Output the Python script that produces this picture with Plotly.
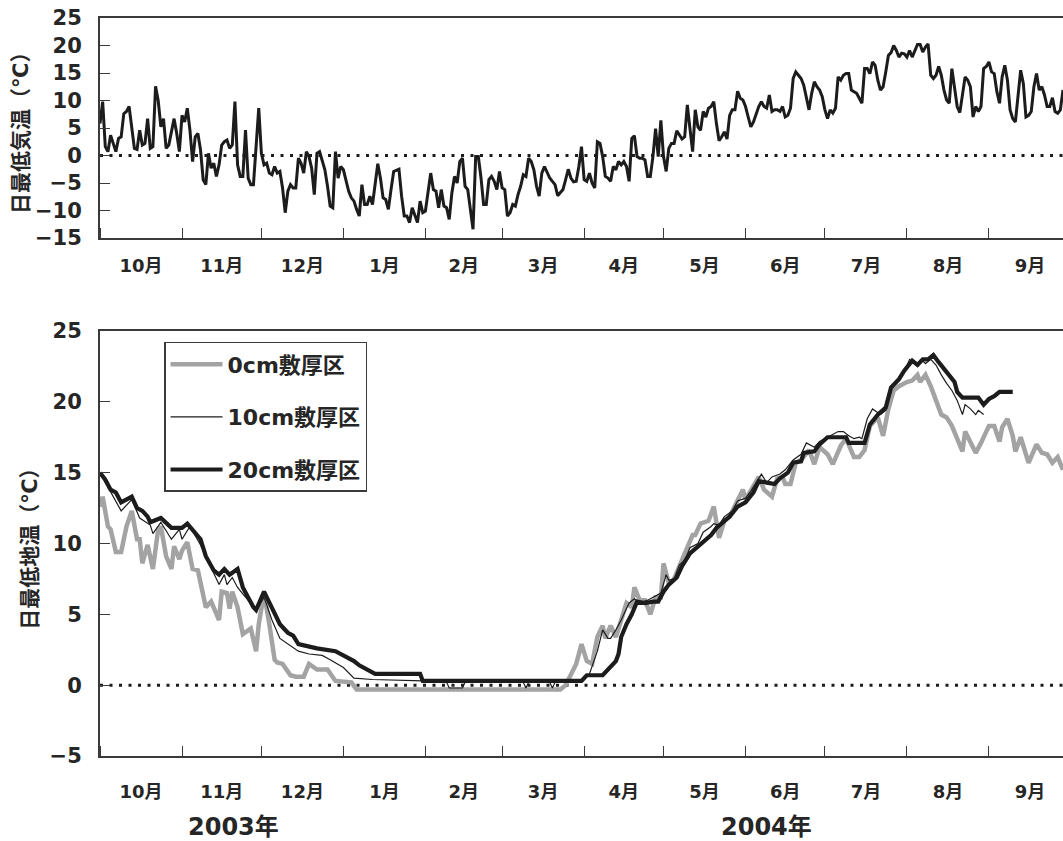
import pandas as pd
import plotly.graph_objects as go

START = "2003-10-01"

# ---- daily minimum air temperature (°C), Oct 1 2003 .. Sep 29 2004 ----
air_oct = [5.8, 9.8, 1.6, 0.7, 3.7, 2.0, 0.7, 3.1, 3.4, 7.6, 8.0, 8.9, 4.9, 1.3, 1.1, 4.6,
           1.9, 2.2, 6.7, 1.3, 1.6, 12.6, 10.0, 5.2, 6.7, 1.3, 1.9, 4.0, 6.7, 4.0, 0.7]
air_nov = [7.3, 6.1, 8.6, 4.6, -1.1, 3.4, 4.0, 1.0, -4.4, -5.3, 0.4, -2.3, -1.4, -3.8, -1.7,
           1.9, 2.5, 2.8, 1.3, 1.9, 9.8, -1.7, -3.8, -3.8, 4.6, -4.1, -5.3, -5.3, 1.6, 8.6]
air_dec = [0.4, -1.7, -1.4, -3.2, -3.5, -2.0, -3.2, -2.9, -5.9, -10.4, -6.5, -5.3, -5.9, -5.9,
           -0.5, -1.4, -3.2, 0.7, -0.2, -2.3, -7.1, 0.4, 0.7, -1.1, -2.6, -5.6, -9.2, -9.5, 0.7,
           -4.1, -2.0]
air_jan = [-2.6, -4.4, -6.5, -7.7, -8.3, -9.8, -11.0, -5.3, -8.9, -8.9, -7.4, -8.9, -5.0, -1.5,
           -4.1, -7.7, -8.0, -9.8, -6.2, -2.9, -2.7, -2.5, -7.4, -11.0, -11.0, -12.2, -9.5, -10.7,
           -12.2, -8.3, -10.4]
air_feb = [-10.1, -7.0, -3.2, -6.2, -6.5, -9.5, -6.2, -9.2, -9.5, -11.6, -6.8, -3.8, -5.0, -1.1,
           -0.5, -5.6, -6.2, -9.8, -13.4, -0.2, -0.2, -4.0, -8.9, -8.9, -4.4, -3.8, -4.7, -6.2, -2.9]
air_mar = [-5.9, -6.2, -11.0, -10.4, -8.9, -9.2, -7.1, -5.6, -3.5, -3.8, -0.5, -1.1, -2.6, -5.6,
           -7.4, -3.2, -2.0, -3.2, -4.1, -4.7, -5.3, -7.3, -6.8, -6.2, -4.4, -2.5, -4.1, -4.8, -4.7,
           -2.0, 1.6]
air_apr = [-4.4, -4.7, -3.2, -5.0, -5.9, 2.5, 2.2, -0.2, -3.8, -4.1, -4.7, -2.0, -2.6, -1.1, -1.7,
           -1.1, -2.0, -4.7, 3.1, 3.6, -0.2, -0.5, -0.5, -0.8, -3.8, -3.8, -0.2, 4.9, -0.2, 6.4]
air_may = [-0.2, -2.9, 1.3, 2.2, 2.2, 4.5, 3.7, 3.0, 3.4, 9.2, 4.9, 0.7, 8.3, 5.2, 4.6, 8.0, 7.0,
           8.6, 8.9, 9.8, 5.8, 2.7, 3.4, 4.3, 3.0, 7.3, 8.3, 8.3, 11.7, 10.4, 10.1]
air_jun = [8.9, 7.0, 5.2, 6.1, 7.7, 8.9, 9.8, 8.9, 8.6, 11.0, 8.0, 8.3, 8.3, 8.0, 8.9, 7.0, 7.3,
           8.6, 14.0, 15.2, 14.6, 14.0, 12.8, 10.4, 8.3, 11.3, 13.4, 12.5, 11.9, 10.7]
air_jul = [8.3, 6.7, 8.3, 7.7, 8.6, 14.3, 13.7, 14.6, 14.9, 14.9, 11.9, 11.6, 11.3, 10.4, 9.5,
           15.8, 15.8, 14.9, 17.0, 16.4, 13.7, 11.9, 12.5, 15.2, 18.2, 18.7, 20.0, 19.1, 17.9, 18.6,
           18.5]
air_aug = [17.9, 19.1, 17.9, 19.0, 20.2, 20.2, 18.8, 19.7, 20.3, 14.6, 14.0, 14.6, 16.2, 14.6,
           11.9, 10.1, 9.5, 15.8, 11.9, 8.9, 7.8, 10.7, 14.3, 13.7, 12.5, 7.0, 8.9, 8.0, 8.9, 15.8,
           16.2]
air_sep = [17.0, 15.2, 14.9, 11.6, 9.5, 14.3, 16.4, 13.7, 8.3, 6.7, 6.1, 11.3, 15.5, 13.1, 7.0,
           7.3, 8.0, 12.5, 14.9, 11.9, 12.5, 11.0, 8.9, 8.9, 10.5, 8.0, 7.7, 8.3, 11.9]

air_min = (air_oct + air_nov + air_dec + air_jan + air_feb + air_mar + air_apr + air_may
           + air_jun + air_jul + air_aug + air_sep)

# ---- daily minimum soil temperature (°C): (day since Oct 1 2003, value) ----
soil_0cm = [(0, 12.6), (1, 13.3), (3, 11.2), (4, 11.0), (6, 9.4), (8, 9.4), (10, 11.2), (12, 12.3),
            (14, 10.3), (15, 10.3), (16, 8.6), (18, 9.9), (20, 8.2), (22, 11.0), (23, 11.2),
            (25, 9.1), (27, 8.2), (28, 9.8), (30, 8.9), (31, 9.5), (33, 10.1), (35, 8.2), (37, 8.1),
            (40, 5.5), (42, 5.9), (45, 4.6), (46, 6.6), (48, 6.5), (49, 5.4), (50, 6.6), (52, 5.5),
            (54, 3.6), (57, 4.0), (59, 2.4), (60, 4.3), (62, 6.5), (64, 4.3), (66, 1.8), (67, 1.6),
            (69, 1.5), (72, 0.7), (74, 0.6), (77, 0.6), (79, 1.5), (82, 1.1), (86, 1.1), (89, 0.3),
            (95, 0.2), (97, -0.3), (174, -0.3), (176, 0.0), (180, 1.5), (182, 2.9), (184, 1.7),
            (186, 1.5), (188, 3.4), (190, 4.2), (191, 3.3), (193, 4.2), (195, 3.4), (197, 4.6),
            (199, 5.8), (201, 5.5), (202, 6.9), (204, 6.0), (206, 6.0), (208, 5.0), (210, 6.2),
            (212, 6.2), (213, 8.6), (215, 7.2), (217, 7.5), (219, 8.4), (222, 9.8), (224, 10.6),
            (225, 10.6), (227, 11.4), (230, 11.6), (232, 12.6), (234, 10.4), (236, 11.6),
            (238, 11.9), (241, 13.1), (243, 13.8), (244, 13.1), (247, 14.0), (249, 14.7),
            (251, 13.8), (254, 13.3), (256, 14.6), (258, 14.7), (259, 14.2), (261, 14.2),
            (263, 15.7), (265, 15.9), (268, 16.6), (270, 15.6), (272, 16.8), (275, 16.3),
            (277, 15.6), (280, 16.9), (282, 17.4), (285, 16.1), (287, 16.1), (289, 16.6),
            (291, 18.3), (294, 18.9), (296, 17.6), (298, 19.5), (300, 20.8), (302, 21.1),
            (305, 21.4), (307, 21.5), (309, 21.9), (310, 21.4), (312, 21.9), (314, 21.1),
            (316, 20.1), (318, 19.1), (320, 18.9), (322, 18.3), (324, 17.4), (326, 16.5),
            (327, 17.9), (329, 17.1), (331, 16.4), (333, 17.1), (336, 18.3), (338, 18.3),
            (340, 17.2), (341, 18.2), (343, 18.8), (345, 17.6), (346, 16.5), (348, 17.5),
            (350, 16.3), (351, 15.7), (354, 17.0), (356, 16.4), (358, 16.3), (360, 15.7),
            (362, 16.1), (364, 15.2)]

soil_10cm = [(0, 15.0), (4, 13.6), (8, 12.3), (12, 13.1), (15, 11.8), (19, 11.3), (20, 10.7),
             (23, 11.5), (27, 10.3), (30, 11.0), (31, 10.3), (34, 11.2), (38, 9.9), (45, 7.1),
             (47, 7.8), (48, 7.1), (50, 7.6), (52, 6.9), (55, 6.2), (59, 5.3), (62, 6.2), (65, 4.6),
             (68, 3.3), (72, 2.8), (75, 2.4), (79, 2.2), (84, 2.1), (87, 1.8), (92, 1.25), (96, 0.5),
             (103, 0.4), (122, 0.3), (131, 0.2), (132, -0.2), (137, -0.2), (138, 0.2), (160, 0.2),
             (161, -0.2), (162, 0.2), (170, 0.2), (171, -0.2), (172, 0.2), (182, 0.25), (185, 0.8),
             (188, 2.4), (190, 3.9), (192, 3.3), (193, 3.3), (195, 3.9), (197, 4.6), (200, 5.8),
             (202, 6.1), (204, 5.8), (207, 6.0), (209, 6.2), (212, 6.5), (214, 7.8), (215, 7.4),
             (217, 7.5), (219, 8.5), (221, 8.8), (223, 9.7), (226, 10.0), (228, 10.8), (231, 11.2),
             (232, 11.4), (234, 11.3), (236, 11.9), (239, 12.3), (241, 13.0), (244, 13.2),
             (246, 13.7), (248, 14.3), (250, 14.9), (252, 14.3), (254, 14.7), (257, 14.9),
             (259, 15.2), (262, 15.9), (265, 16.3), (267, 17.1), (270, 16.8), (272, 17.2),
             (275, 17.5), (279, 17.9), (281, 17.9), (283, 17.6), (285, 17.4), (287, 17.5),
             (288, 17.4), (290, 18.8), (292, 19.5), (295, 19.1), (297, 19.4), (299, 21.1),
             (302, 21.5), (304, 22.1), (306, 23.0), (309, 22.6), (311, 22.9), (312, 22.7),
             (314, 23.0), (316, 22.6), (318, 21.9), (320, 21.3), (322, 20.8), (324, 20.1),
             (326, 19.1), (327, 19.8), (329, 19.5), (331, 19.1), (332, 19.4), (334, 19.1)]

soil_20cm = [(0, 15.0), (2, 14.5), (4, 13.8), (6, 13.6), (8, 12.9), (12, 13.3), (14, 12.5),
             (16, 12.3), (18, 11.9), (19, 11.5), (23, 11.8), (25, 11.4), (27, 11.1), (31, 11.1),
             (33, 11.4), (38, 10.3), (40, 9.1), (43, 8.1), (45, 7.8), (47, 8.2), (49, 7.8),
             (52, 8.2), (54, 6.9), (58, 5.5), (59, 5.3), (62, 6.6), (65, 5.4), (68, 4.3), (71, 3.7),
             (73, 3.5), (75, 2.9), (82, 2.6), (89, 2.4), (96, 1.7), (98, 1.4), (104, 0.8),
             (121, 0.8), (122, 0.3), (182, 0.3), (184, 0.7), (190, 0.7), (192, 1.1), (193, 1.25),
             (195, 1.7), (196, 2.2), (197, 3.4), (199, 4.3), (201, 5.0), (203, 5.9), (206, 5.8),
             (209, 5.9), (211, 5.9), (213, 6.6), (215, 7.1), (218, 7.6), (220, 8.4), (223, 9.3),
             (226, 9.8), (228, 10.1), (231, 10.6), (233, 11.1), (236, 11.6), (238, 11.9),
             (241, 12.6), (244, 12.9), (247, 13.6), (249, 14.4), (252, 14.3), (255, 14.2),
             (257, 14.6), (260, 15.0), (262, 15.7), (265, 15.8), (266, 16.4), (270, 16.5),
             (272, 17.0), (275, 17.5), (282, 17.5), (283, 17.1), (289, 17.1), (291, 18.4),
             (294, 19.1), (297, 19.6), (299, 21.0), (302, 21.6), (304, 22.2), (307, 22.9),
             (309, 22.6), (311, 23.0), (313, 23.0), (315, 23.3), (317, 22.8), (319, 22.3),
             (321, 21.9), (323, 21.4), (324, 20.7), (326, 20.3), (332, 20.3), (334, 19.8),
             (336, 20.2), (338, 20.4), (340, 20.7), (345, 20.7)]

series_names = ["0cm敷厚区", "10cm敷厚区", "20cm敷厚区"]
month_fmt = "%-m月"
year_labels = ["2003年", "2004年"]
x_end = "2004-09-29"

base = pd.Timestamp(START)
air_dates = pd.date_range(START, periods=len(air_min), freq="D")


def to_xy(pairs):
    days = [p[0] for p in pairs]
    vals = [p[1] for p in pairs]
    return base + pd.to_timedelta(days, unit="D"), vals


FONT = "DejaVu Sans, Noto Sans CJK JP, sans-serif"
TXT = "#262626"

fig = go.Figure()
fig.add_trace(go.Scatter(x=air_dates, y=air_min, mode="lines", xaxis="x", yaxis="y",
                         line=dict(color="#1c1c1c", width=3), showlegend=False))

styles = [dict(color="#a3a3a3", width=4.5), dict(color="#1c1c1c", width=1.2),
          dict(color="#1c1c1c", width=4.2)]
for name, pairs, st in zip(series_names, [soil_0cm, soil_10cm, soil_20cm], styles):
    xs, ys = to_xy(pairs)
    fig.add_trace(go.Scatter(x=xs, y=ys, mode="lines", xaxis="x2", yaxis="y2", name=name,
                             legendgroup=name, line=st))

common_x = dict(type="date", range=[START, x_end], showline=True, linecolor="#3a3a3a",
                linewidth=2, mirror=True, ticks="inside", ticklen=10, tickwidth=1.3,
                tickcolor="#3a3a3a", dtick="M1", tick0=START, tickformat=month_fmt,
                ticklabelmode="period", showgrid=False, zeroline=False,
                tickfont=dict(family=FONT, size=18, color=TXT, weight="bold"))
common_y = dict(showline=True, linecolor="#3a3a3a", linewidth=2, ticks="inside", ticklen=10,
                tickwidth=1.3, tickcolor="#3a3a3a", dtick=5, showgrid=False, zeroline=False,
                ticklabelstandoff=12,
                tickfont=dict(family=FONT, size=21, color=TXT, weight="bold"))

fig.update_layout(
    width=1063, height=841,
    margin=dict(l=100, r=0, t=18, b=85),
    plot_bgcolor="white", paper_bgcolor="white",
    xaxis=dict(common_x, domain=[0, 1], anchor="y", ticklabelstandoff=10),
    yaxis=dict(common_y, domain=[0.7019, 1], anchor="x", range=[-15, 25], tick0=-15),
    xaxis2=dict(common_x, domain=[0, 1], anchor="y2", ticklabelstandoff=18),
    yaxis2=dict(common_y, domain=[0, 0.5759], anchor="x2", range=[-5, 25], tick0=-5),
    showlegend=True,
    legend=dict(x=0.0665, y=0.561, xanchor="left", yanchor="top", bgcolor="white",
                bordercolor="#3a3a3a", borderwidth=1.5, tracegroupgap=21, itemwidth=52,
                font=dict(family=FONT, size=22, color=TXT, weight="bold")),
    shapes=[
        dict(type="line", xref="x domain", yref="y", x0=0, x1=1, y0=0, y1=0, layer="below",
             line=dict(color="#1c1c1c", width=3, dash="3px,6.5px")),
        dict(type="line", xref="x2 domain", yref="y2", x0=0, x1=1, y0=0, y1=0, layer="below",
             line=dict(color="#1c1c1c", width=3, dash="3px,6.5px")),
    ],
    annotations=[
        dict(text="日最低気温（℃）", xref="paper", yref="paper", x=-0.082, y=0.851,
             textangle=-90, showarrow=False, xanchor="center", yanchor="middle",
             font=dict(family=FONT, size=21, color=TXT, weight="bold")),
        dict(text="日最低地温（℃）", xref="paper", yref="paper", x=-0.072, y=0.287,
             textangle=-90, showarrow=False, xanchor="center", yanchor="middle",
             font=dict(family=FONT, size=21, color=TXT, weight="bold")),
        dict(text=year_labels[0], xref="paper", yref="paper", x=0.139, y=-0.096,
             showarrow=False, xanchor="center", yanchor="middle",
             font=dict(family=FONT, size=24, color=TXT, weight="bold")),
        dict(text=year_labels[1], xref="paper", yref="paper", x=0.692, y=-0.096,
             showarrow=False, xanchor="center", yanchor="middle",
             font=dict(family=FONT, size=24, color=TXT, weight="bold")),
    ],
)

fig.write_html("out.html")
